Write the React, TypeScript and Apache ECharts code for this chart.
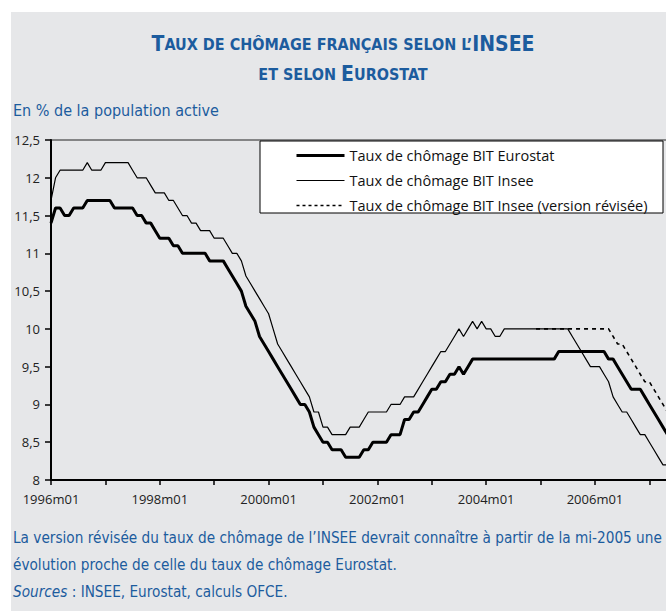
import React, { useEffect, useRef } from 'react';
import * as echarts from 'echarts';

// Monthly data from 1996m01 to 2007m05
const START_YEAR = 1996;
const N_MONTHS = 137;

const categories: string[] = [];
for (let i = 0; i < N_MONTHS; i++) {
  const y = START_YEAR + Math.floor(i / 12);
  const m = (i % 12) + 1;
  categories.push(`${y}m${m < 10 ? '0' + m : m}`);
}

const eurostat = [
  11.4, 11.6, 11.6, 11.5, 11.5, 11.6, 11.6, 11.6, 11.7, 11.7, 11.7, 11.7,
  11.7, 11.7, 11.6, 11.6, 11.6, 11.6, 11.6, 11.5, 11.5, 11.4, 11.4, 11.3,
  11.2, 11.2, 11.2, 11.1, 11.1, 11.0, 11.0, 11.0, 11.0, 11.0, 11.0, 10.9,
  10.9, 10.9, 10.9, 10.8, 10.7, 10.6, 10.5, 10.3, 10.2, 10.1, 9.9, 9.8,
  9.7, 9.6, 9.5, 9.4, 9.3, 9.2, 9.1, 9.0, 9.0, 8.9, 8.7, 8.6,
  8.5, 8.5, 8.4, 8.4, 8.4, 8.3, 8.3, 8.3, 8.3, 8.4, 8.4, 8.5,
  8.5, 8.5, 8.5, 8.6, 8.6, 8.6, 8.8, 8.8, 8.9, 8.9, 9.0, 9.1,
  9.2, 9.2, 9.3, 9.3, 9.4, 9.4, 9.5, 9.4, 9.5, 9.6, 9.6, 9.6,
  9.6, 9.6, 9.6, 9.6, 9.6, 9.6, 9.6, 9.6, 9.6, 9.6, 9.6, 9.6,
  9.6, 9.6, 9.6, 9.6, 9.7, 9.7, 9.7, 9.7, 9.7, 9.7, 9.7, 9.7,
  9.7, 9.7, 9.7, 9.6, 9.6, 9.5, 9.4, 9.3, 9.2, 9.2, 9.2, 9.1,
  9.0, 8.9, 8.8, 8.7, 8.6,
];

const insee = [
  11.7, 12.0, 12.1, 12.1, 12.1, 12.1, 12.1, 12.1, 12.2, 12.1, 12.1, 12.1,
  12.2, 12.2, 12.2, 12.2, 12.2, 12.2, 12.1, 12.0, 12.0, 12.0, 11.9, 11.8,
  11.8, 11.8, 11.7, 11.7, 11.6, 11.5, 11.5, 11.4, 11.4, 11.3, 11.3, 11.3,
  11.2, 11.2, 11.2, 11.1, 11.0, 11.0, 10.9, 10.7, 10.6, 10.5, 10.4, 10.3,
  10.2, 10.0, 9.8, 9.7, 9.6, 9.5, 9.4, 9.3, 9.2, 9.1, 8.9, 8.9,
  8.7, 8.7, 8.6, 8.6, 8.6, 8.6, 8.7, 8.7, 8.7, 8.8, 8.9, 8.9,
  8.9, 8.9, 8.9, 9.0, 9.0, 9.0, 9.1, 9.1, 9.1, 9.2, 9.3, 9.4,
  9.5, 9.6, 9.7, 9.7, 9.8, 9.9, 10.0, 9.9, 10.0, 10.1, 10.0, 10.1,
  10.0, 10.0, 9.9, 9.9, 10.0, 10.0, 10.0, 10.0, 10.0, 10.0, 10.0, 10.0,
  10.0, 10.0, 10.0, 10.0, 10.0, 10.0, 10.0, 9.9, 9.8, 9.7, 9.6, 9.5,
  9.5, 9.5, 9.4, 9.3, 9.1, 9.0, 8.9, 8.9, 8.8, 8.7, 8.6, 8.6,
  8.5, 8.4, 8.3, 8.2, 8.2,
];

// Revised INSEE series, starting in 2004m12
const REVISED_START = '2004m12';
const revised = [
  10.0,
  10.0, 10.0, 10.0, 10.0, 10.0, 10.0, 10.0, 10.0, 10.0, 10.0, 10.0, 10.0,
  10.0, 10.0, 10.0, 10.0, 9.9, 9.8, 9.8, 9.7, 9.6, 9.5, 9.4, 9.3,
  9.3, 9.2, 9.1, 9.0, 8.9,
];

const seriesNames = [
  'Taux de chômage BIT Eurostat',
  'Taux de chômage BIT Insee',
  'Taux de chômage BIT Insee (version révisée)',
];

const Y_MIN = 8;
const Y_MAX = 12.5;
const Y_STEP = 0.5;

const titleLine1 = '{b|T}{s|AUX DE CHÔMAGE FRANÇAIS SELON L\u2019}{b|INSEE}';
const titleLine2 = '{s|ET SELON }{b|E}{s|UROSTAT}';
const subtitle = 'En % de la population active';
const note1 = 'La version révisée du taux de chômage de l\u2019INSEE devrait connaître à partir de la mi-2005 une';
const note2 = 'évolution proche de celle du taux de chômage Eurostat.';
const note3 = '{i|Sources} : INSEE, Eurostat, calculs OFCE.';

const BLUE = '#1c5c9e';
const NARROW = '"Liberation Sans Narrow", "DejaVu Sans Condensed", "Roboto Condensed", Roboto, sans-serif';
const LABEL_FONT = '"Open Sans", Lato, sans-serif';

const EUROSTAT_STYLE = { color: '#000', width: 3 };
const INSEE_STYLE = { color: '#000', width: 1.2 };
const REVISED_STYLE = { color: '#000', width: 1.6, type: [4, 4] };

export default function App() {
  const ref = useRef<HTMLDivElement>(null);

  useEffect(() => {
    if (!ref.current) return;
    const chart = echarts.init(ref.current, null, { renderer: 'svg' });
    const revStart = categories.indexOf(REVISED_START);
    const revisedData: (number | null)[] = categories.map((_, i) =>
      i >= revStart && i - revStart < revised.length ? revised[i - revStart] : null
    );

    const noteStyle = { verticalAlign: 'middle', fill: BLUE, fontFamily: NARROW, fontSize: 15.2 };

    chart.setOption({
      animation: false,
      backgroundColor: 'transparent',
      grid: {
        left: 40,
        top: 128,
        width: 616.5,
        height: 340,
        show: true,
        borderColor: '#222',
        borderWidth: 1,
        backgroundColor: 'transparent',
      },
      xAxis: {
        type: 'category',
        data: categories,
        boundaryGap: false,
        axisLine: { lineStyle: { color: '#000', width: 2 } },
        axisTick: { interval: 11, length: 5, lineStyle: { color: '#000', width: 1.5 } },
        axisLabel: {
          interval: 23,
          color: '#222',
          fontFamily: LABEL_FONT,
          fontSize: 13,
          margin: 12,
        },
        splitLine: { show: false },
      },
      yAxis: {
        type: 'value',
        min: Y_MIN,
        max: Y_MAX,
        interval: Y_STEP,
        axisLine: { show: true, lineStyle: { color: '#000', width: 2 } },
        axisTick: { show: true, length: 6, lineStyle: { color: '#000', width: 1.5 } },
        axisLabel: {
          color: '#222',
          fontFamily: LABEL_FONT,
          fontSize: 13,
          margin: 11,
          formatter: (v: number) => String(v).replace('.', ','),
        },
        splitLine: { show: false },
      },
      legend: {
        orient: 'vertical',
        left: 284,
        top: 136,
        padding: 0,
        itemWidth: 48,
        itemHeight: 14,
        itemGap: 10,
        data: [
          { name: seriesNames[0], lineStyle: EUROSTAT_STYLE },
          { name: seriesNames[1], lineStyle: INSEE_STYLE },
          { name: seriesNames[2], lineStyle: { ...REVISED_STYLE, type: [3, 3] } },
        ],
        itemStyle: { opacity: 0 },
        textStyle: { fontFamily: LABEL_FONT, fontSize: 14.5, color: '#111' },
        z: 10,
      },
      graphic: [
        {
          type: 'rect',
          z: 5,
          shape: { x: 249, y: 129, width: 403, height: 72 },
          style: { fill: '#fff', stroke: '#000', lineWidth: 1 },
        },
        {
          type: 'text',
          x: 332,
          y: 32,
          style: {
            text: titleLine1,
            align: 'center',
            verticalAlign: 'middle',
            fill: BLUE,
            rich: {
              b: { fontFamily: NARROW, fontWeight: 'bold', fontSize: 21, fill: BLUE },
              s: { fontFamily: NARROW, fontWeight: 'bold', fontSize: 16, fill: BLUE },
            },
          },
        },
        {
          type: 'text',
          x: 332,
          y: 62,
          style: {
            text: titleLine2,
            align: 'center',
            verticalAlign: 'middle',
            fill: BLUE,
            rich: {
              b: { fontFamily: NARROW, fontWeight: 'bold', fontSize: 21, fill: BLUE },
              s: { fontFamily: NARROW, fontWeight: 'bold', fontSize: 16, fill: BLUE },
            },
          },
        },
        {
          type: 'text',
          x: 2,
          y: 98,
          style: {
            text: subtitle,
            verticalAlign: 'middle',
            fill: BLUE,
            fontFamily: NARROW,
            fontSize: 16,
          },
        },
        { type: 'text', x: 2, y: 526, style: { text: note1, ...noteStyle } },
        { type: 'text', x: 2, y: 553, style: { text: note2, ...noteStyle } },
        {
          type: 'text',
          x: 2,
          y: 580,
          style: {
            text: note3,
            ...noteStyle,
            rich: {
              i: { fontStyle: 'italic', fontFamily: NARROW, fontSize: 15.2, fill: BLUE },
            },
          },
        },
      ],
      series: [
        {
          name: seriesNames[0],
          type: 'line',
          data: eurostat,
          symbol: 'none',
          lineStyle: EUROSTAT_STYLE,
          itemStyle: { color: '#000' },
          z: 3,
        },
        {
          name: seriesNames[1],
          type: 'line',
          data: insee,
          symbol: 'none',
          lineStyle: INSEE_STYLE,
          itemStyle: { color: '#000' },
          z: 2,
        },
        {
          name: seriesNames[2],
          type: 'line',
          data: revisedData,
          symbol: 'none',
          connectNulls: false,
          lineStyle: REVISED_STYLE,
          itemStyle: { color: '#000' },
          z: 4,
        },
      ],
    });
    return () => chart.dispose();
  }, []);

  return (
    <div
      style={{
        position: 'absolute',
        left: 11,
        top: 12,
        width: 655,
        height: 599,
        overflow: 'hidden',
        background: '#e6e7e9',
      }}
    >
      <div ref={ref} style={{ width: 720, height: 599 }} />
    </div>
  );
}
